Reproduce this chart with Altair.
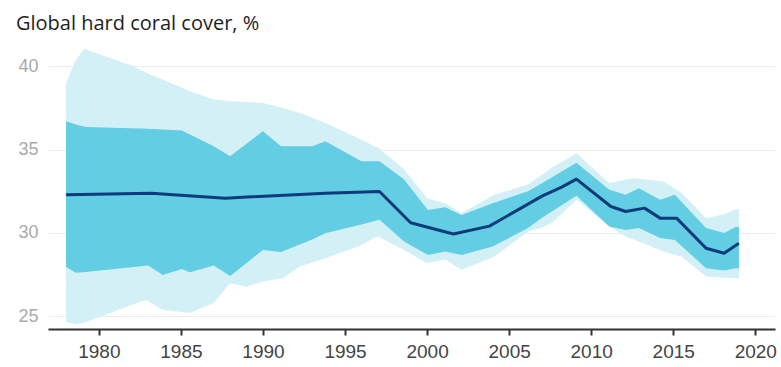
import altair as alt
import pandas as pd

# Mean coral cover line
line_year = [1978.0, 1983.2, 1987.7, 1993.8, 1997.1, 1999.0, 2001.6, 2003.8, 2007.0, 2008.2,
             2009.1, 2011.2, 2012.1, 2013.25, 2014.2, 2015.2, 2017.0, 2018.1, 2019.0]
line_val = [32.28, 32.38, 32.08, 32.38, 32.48, 30.6, 29.93, 30.4, 32.2, 32.74,
            33.22, 31.58, 31.28, 31.48, 30.88, 30.88, 29.07, 28.77, 29.37]

# Inner (darker) uncertainty band
dark_year = [1978.0, 1978.6, 1979.2, 1983.0, 1983.9, 1985.05, 1985.55, 1987.0, 1988.0, 1990.0,
             1991.1, 1993.0, 1993.8, 1996.0, 1997.1, 1998.6, 2000.05, 2001.1, 2002.1, 2004.0,
             2006.15, 2007.0, 2009.1, 2011.1, 2012.1, 2012.9, 2014.2, 2015.1, 2017.0, 2018.1,
             2018.8, 2019.0]
dark_hi = [36.7, 36.5, 36.35, 36.25, 36.2, 36.15, 35.9, 35.2, 34.6, 36.1,
           35.2, 35.2, 35.5, 34.3, 34.3, 33.2, 31.37, 31.53, 31.07, 31.78,
           32.5, 32.98, 34.2, 32.58, 32.28, 32.68, 31.98, 32.28, 30.28, 29.98,
           30.34, 30.34]
dark_lo = [27.95, 27.6, 27.65, 28.03, 27.47, 27.83, 27.63, 28.03, 27.4, 28.97,
           28.85, 29.6, 29.97, 30.5, 30.78, 29.47, 28.67, 28.87, 28.67, 29.17,
           30.28, 30.9, 32.22, 30.37, 30.17, 30.28, 29.68, 29.57, 27.87, 27.73,
           27.87, 27.87]

# Outer (lighter) uncertainty band
light_year = [1978.0, 1978.55, 1979.1, 1982.1, 1982.9, 1983.9, 1985.55, 1987.0, 1988.0, 1989.0,
              1990.0, 1991.2, 1992.25, 1993.8, 1995.8, 1996.8, 1997.0, 1998.6, 2000.0, 2001.1,
              2002.1, 2004.1, 2006.15, 2007.0, 2007.6, 2009.1, 2011.1, 2012.1, 2012.6, 2014.4,
              2015.5, 2017.0, 2018.1, 2018.8, 2019.0]
light_hi = [39.0, 40.3, 41.05, 40.0, 39.6, 39.2, 38.5, 38.0, 37.9, 37.85,
            37.8, 37.5, 37.2, 36.6, 35.7, 35.2, 35.1, 33.8, 32.08, 31.78,
            31.18, 32.28, 32.9, 33.48, 33.9, 34.78, 32.98, 33.2, 33.28, 33.08,
            32.4, 30.88, 31.12, 31.42, 31.42]
light_lo = [24.65, 24.5, 24.6, 25.7, 25.96, 25.36, 25.2, 25.76, 26.97, 26.76,
            27.07, 27.27, 27.97, 28.47, 29.17, 29.7, 29.77, 28.97, 28.17, 28.4,
            27.77, 28.57, 30.07, 30.3, 30.58, 31.98, 30.37, 29.77, 29.6, 28.87,
            28.57, 27.37, 27.3, 27.27, 27.27]

x_ticks = [1980, 1985, 1990, 1995, 2000, 2005, 2010, 2015, 2020]
y_ticks = [25, 30, 35, 40]

line_df = pd.DataFrame({"year": line_year, "value": line_val})
dark_df = pd.DataFrame({"year": dark_year, "lo": dark_lo, "hi": dark_hi})
light_df = pd.DataFrame({"year": light_year, "lo": light_lo, "hi": light_hi})

FONT = "Liberation Sans"
xscale = alt.Scale(domain=[1976.9, 2021.2], nice=False, zero=False)
yscale = alt.Scale(domain=[24.22, 42.0], nice=False, zero=False)

xaxis = alt.Axis(values=x_ticks, format="d", title=None, grid=False,
                 domainColor="#333333", domainWidth=2, tickColor="#333333",
                 tickWidth=2, tickSize=6, labelFontSize=19, labelColor="#444444",
                 labelFont=FONT, labelPadding=7)
yaxis = alt.Axis(values=y_ticks, title=None, grid=True, gridColor="#ececec",
                 gridWidth=1, domain=False, ticks=False, labelFontSize=18,
                 labelColor="#aaaaaa", labelFont=FONT, labelPadding=10)

light = alt.Chart(light_df).mark_area(color="#d3f0f7", opacity=1).encode(
    x=alt.X("year:Q", scale=xscale, axis=xaxis),
    y=alt.Y("lo:Q", scale=yscale, axis=yaxis),
    y2="hi:Q",
)
dark = alt.Chart(dark_df).mark_area(color="#62cde3", opacity=1).encode(
    x=alt.X("year:Q", scale=xscale),
    y=alt.Y("lo:Q", scale=yscale),
    y2="hi:Q",
)
line = alt.Chart(line_df).mark_line(color="#0d3b7a", strokeWidth=3,
                                    strokeJoin="round").encode(
    x=alt.X("year:Q", scale=xscale),
    y=alt.Y("value:Q", scale=yscale),
)

chart = (light + dark + line).properties(
    width=727,
    height=296,
    autosize=alt.AutoSizeParams(type="none"),
    padding={"left": 48, "top": 33, "right": 6, "bottom": 38},
    title=alt.TitleParams(
        text="Global hard coral cover, %",
        anchor="start", fontSize=20, font="Open Sans", fontWeight="normal",
        color="#1e1e1e", dx=-2, dy=21, offset=4, baseline="alphabetic",
    ),
).configure(background="white").configure_view(stroke=None)

chart.save("out.html", embed_options={"renderer": "svg", "actions": False})
